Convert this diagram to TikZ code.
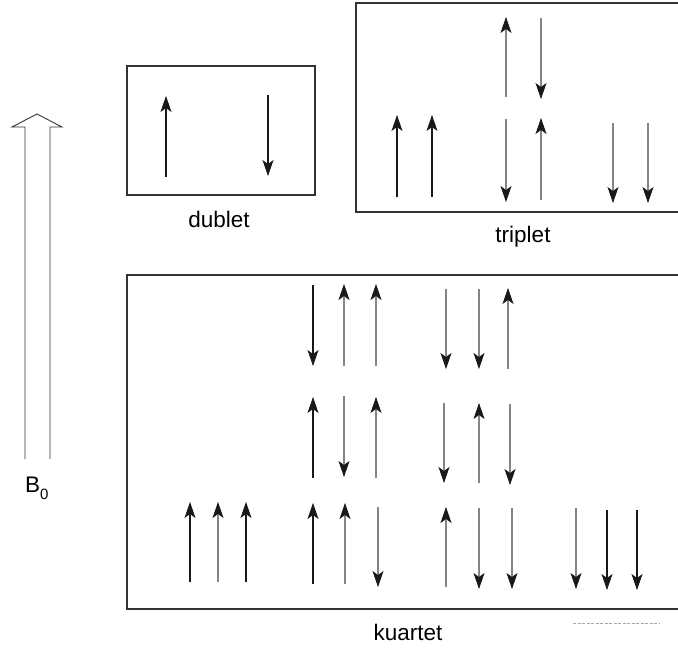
\documentclass[tikz,border=0pt]{standalone}
\usepackage{fontspec}
\setmainfont{Liberation Sans}
\usetikzlibrary{arrows.meta}
\begin{document}
\begin{tikzpicture}[x=1pt,y=-1pt,
  frame/.style={draw=black!80, line width=1.1pt},
  spintip/.style={-{Stealth[length=16pt,width=11pt,inset=4pt,line width=0.8pt,color=black!90]}},
  spindark/.style={spintip, draw=black!90, line width=1.5pt},
  spingray/.style={spintip, draw=black!48, line width=2.2pt},
  lbl/.style={anchor=base, inner sep=0pt, font=\fontsize{22.5}{26}\selectfont}]
\useasboundingbox (0,0) rectangle (678,650);
\clip (0,0) rectangle (678,650);

% external field B0: hollow arrow
\draw[black!80, line width=0.9pt, line join=miter]
  (25,459) -- (25,127) -- (12,127) -- (37,114) -- (62,127) -- (50,127) -- (50,459);
\node[lbl, anchor=base west] (b0) at (25,492)
  {B\raisebox{-7pt}{\fontsize{15}{15}\selectfont 0}};

% dublet
\draw[frame] (127,66) rectangle (315,195);
\draw[spindark] (166,177) -- (166,96);
\draw[spindark] (268,95) -- (268,176);
\node[lbl] (dublet) at (219,227) {dublet};

% triplet
\draw[frame] (356,3) rectangle (700,212);
\draw[spingray] (506,97) -- (506,17);
\draw[spingray] (541,18) -- (541,99);
\draw[spindark] (397,197) -- (397,115);
\draw[spindark] (432,197) -- (432,115);
\draw[spingray] (506,119) -- (506,202);
\draw[spingray] (541,200) -- (541,118);
\draw[spingray] (613,123) -- (613,203);
\draw[spingray] (648,123) -- (648,203);
\node[lbl] (triplet) at (523,243) {triplet};

% kuartet
\draw[frame] (127,275) rectangle (700,609);
% top row
\draw[spindark] (313,285) -- (313,366);
\draw[spingray] (344,366) -- (344,284);
\draw[spingray] (376,366) -- (376,284);
\draw[spingray] (446,289) -- (446,369);
\draw[spingray] (479,289) -- (479,369);
\draw[spingray] (508,369) -- (508,288);
% middle row
\draw[spindark] (313,478) -- (313,397);
\draw[spingray] (344,396) -- (344,477);
\draw[spingray] (376,478) -- (376,397);
\draw[spingray] (444,403) -- (444,483);
\draw[spingray] (479,483) -- (479,403);
\draw[spingray] (510,404) -- (510,485);
% bottom row
\draw[spindark] (190,582) -- (190,502);
\draw[spingray] (218,582) -- (218,502);
\draw[spindark] (246,582) -- (246,502);
\draw[spindark] (313,584) -- (313,503);
\draw[spingray] (345,584) -- (345,503);
\draw[spingray] (378,507) -- (378,587);
\draw[spingray] (446,587) -- (446,507);
\draw[spingray] (479,508) -- (479,589);
\draw[spingray] (512,508) -- (512,589);
\draw[spingray] (576,508) -- (576,589);
\draw[spindark] (607,510) -- (607,590);
\draw[spindark] (637,510) -- (637,590);
\node[lbl] (kuartet) at (408,640) {kuartet};

% faint dashed stroke under the frame
\draw[black!35, line width=0.6pt, dash pattern=on 3pt off 1.5pt] (573,623) -- (660,623);
\end{tikzpicture}
\end{document}
